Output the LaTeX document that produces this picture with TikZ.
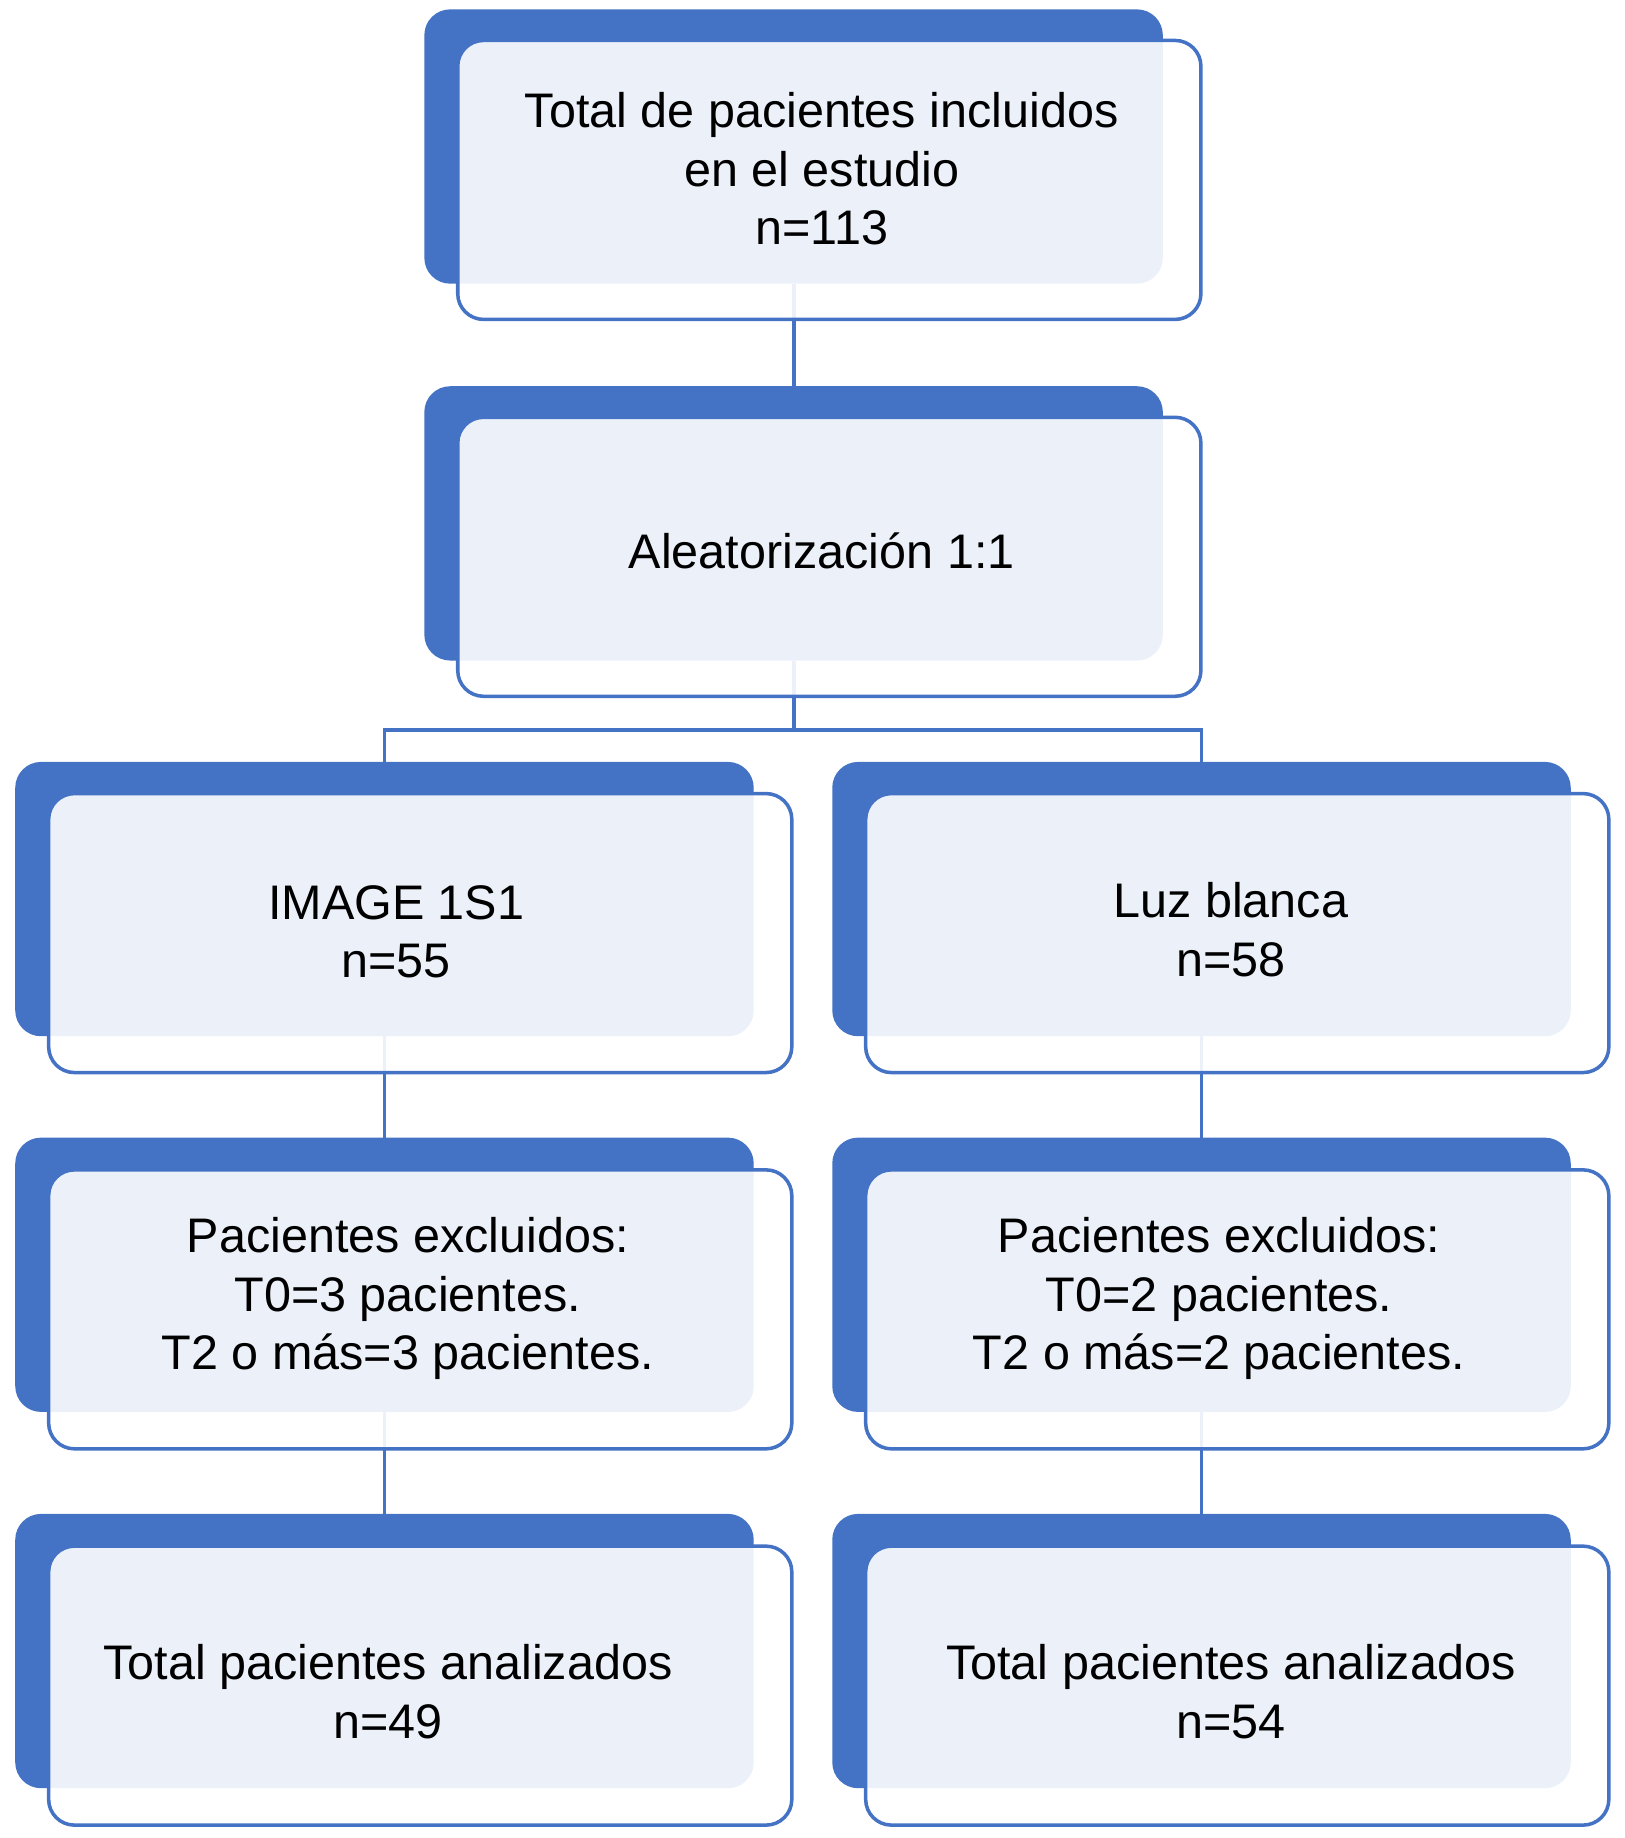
\documentclass[tikz,border=0pt]{standalone}
\usepackage{fontspec}
\setmainfont{Liberation Sans}
\definecolor{sablue}{HTML}{4472C4}
\begin{document}
\begin{tikzpicture}[x=1pt,y=-1pt,
  backbox/.style={fill=sablue, draw=none, rounded corners=22pt, minimum width=630pt, minimum height=234pt, inner sep=0pt, outer sep=0pt},
  frontbox/.style={fill=white, fill opacity=0.9, draw=sablue, draw opacity=1, line width=3pt, rounded corners=22pt, minimum width=634pt, minimum height=238pt, inner sep=0pt, outer sep=0pt},
  lbl/.style={align=center, font=\fontsize{41.4}{50}\selectfont, text=black, inner sep=0pt},
  conn/.style={draw=sablue, line width=3.3pt}]
\useasboundingbox (0,0) rectangle (1386,1568);
% back boxes
\node[backbox] (b1)  at (677,125) {};
\node[backbox] (b2)  at (677,446.5) {};
\node[backbox] (b3l) at (328,767) {};
\node[backbox] (b3r) at (1025,767) {};
\node[backbox] (b4l) at (328,1087.5) {};
\node[backbox] (b4r) at (1025,1087.5) {};
\node[backbox] (b5l) at (328,1408.5) {};
\node[backbox] (b5r) at (1025,1408.5) {};
% connectors
\draw[conn] (b1.south) -- (b2.north);
\draw[conn] (b2.south) -- ++(0,59) -| (b3l.north);
\draw[conn] (b2.south) -- ++(0,59) -| (b3r.north);
\draw[conn] (b3l.south) -- (b4l.north);
\draw[conn] (b3r.south) -- (b4r.north);
\draw[conn] (b4l.south) -- (b5l.north);
\draw[conn] (b4r.south) -- (b5r.north);
% front boxes
\node[frontbox] (f1)  at (707.5,153.5) {};
\node[frontbox] (f2)  at (707.5,475) {};
\node[frontbox] (f3l) at (358.5,796) {};
\node[frontbox] (f3r) at (1055.5,796) {};
\node[frontbox] (f4l) at (358.5,1117) {};
\node[frontbox] (f4r) at (1055.5,1117) {};
\node[frontbox] (f5l) at (358.5,1438) {};
\node[frontbox] (f5r) at (1055.5,1438) {};
% labels
\node[lbl] (t1)  at (701,144) {Total de pacientes incluidos\\en el estudio\\n=113};
\node[lbl] (t2)  at (701,470) {Aleatorización 1:1};
\node[lbl] (t3l) at (338,795) {IMAGE 1S1\\n=55};
\node[lbl] (t3r) at (1050,793) {Luz blanca\\n=58};
\node[lbl] (t4l) at (348,1108) {Pacientes excluidos:\\T0=3 pacientes.\\T2 o más=3 pacientes.};
\node[lbl] (t4r) at (1040,1108) {Pacientes excluidos:\\T0=2 pacientes.\\T2 o más=2 pacientes.};
\node[lbl] (t5l) at (331,1443) {Total pacientes analizados\\n=49};
\node[lbl] (t5r) at (1050,1443) {Total pacientes analizados\\n=54};
\end{tikzpicture}
\end{document}
